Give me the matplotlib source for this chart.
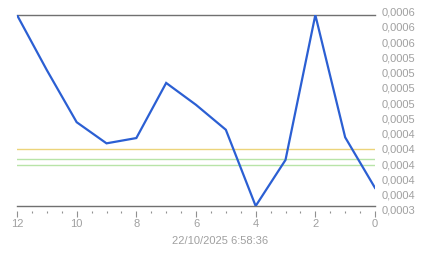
import matplotlib
matplotlib.use("Agg")
import matplotlib.pyplot as plt
from matplotlib.ticker import MultipleLocator, LinearLocator, FuncFormatter

x_vals = [12, 11, 10, 9, 8, 7, 6, 5, 4, 3, 2, 1, 0]
y_vals = [0.000600, 0.000527, 0.000458, 0.000430, 0.000437, 0.000510, 0.000481,
          0.000448, 0.000347, 0.000408, 0.000600, 0.000438, 0.000371]
ref_yellow = 0.000422
ref_green = [0.000409, 0.000401]
x_major = [12, 10, 8, 6, 4, 2, 0]
x_label = "22/10/2025 6:58:36"

plt.rcParams['font.family'] = ['Liberation Sans', 'DejaVu Sans']
W, H = 443, 258

fig = plt.figure(figsize=(W/100, H/100), dpi=100)
ax = fig.add_axes([17/W, 52/H, 358/W, 191/H])

for g in ref_green:
    ax.axhline(g, color='#b8e4a8', lw=1.0, zorder=1)
ax.axhline(ref_yellow, color='#ecd47a', lw=1.0, zorder=1)
ax.plot(x_vals, y_vals, color='#2b5fd3', lw=1.6, zorder=3, solid_joinstyle='miter')

ax.set_xlim(12, 0)
ax.set_ylim(min(y_vals), max(y_vals))

for s in ['left', 'right']:
    ax.spines[s].set_visible(False)
for s in ['top', 'bottom']:
    ax.spines[s].set_color('#707070')
    ax.spines[s].set_linewidth(1.0)

ax.set_xticks([])
ax.set_yticks([])

# offset x tick axis (ticks drawn a little below the baseline)
sx = ax.secondary_xaxis(-5/191)
sx.spines['bottom'].set_visible(False)
sx.set_xticks(x_major)
sx.xaxis.set_minor_locator(MultipleLocator(0.5))
sx.tick_params(axis='x', which='major', length=4, width=0.8, color='#909090',
               labelsize=8, labelcolor='#a0a0a0', pad=1.5)
sx.tick_params(axis='x', which='minor', length=1.5, width=0.8, color='#909090')

# y labels on the right, spread slightly wider than the plot
ay = fig.add_axes([17/W, (H-210)/H, 358/W, (210-11.7)/H], frameon=False)
ay.patch.set_visible(False)
ay.set_xticks([])
ay.set_ylim(min(y_vals), max(y_vals))
ay.yaxis.tick_right()
ay.yaxis.set_major_locator(LinearLocator(14))
ay.yaxis.set_major_formatter(FuncFormatter(lambda v, p: f"{v:.4f}".replace('.', ',')))
ay.tick_params(axis='y', which='major', length=0, labelsize=8, labelcolor='#a0a0a0', pad=5)

fig.text(220/W, 1 - 241/H, x_label, ha='center', va='center', fontsize=8, color='#a0a0a0')

fig.savefig("out.png", dpi=100)
